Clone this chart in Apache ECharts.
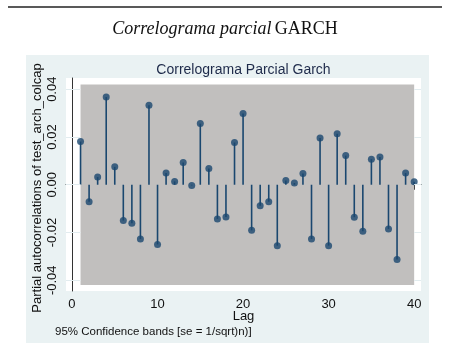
<!DOCTYPE html>
<html><head><meta charset="utf-8">
<script src="https://cdn.jsdelivr.net/npm/echarts@6/dist/echarts.min.js"></script>
<style>html,body{margin:0;padding:0;background:#fff}#c{width:450px;height:345px}</style>
</head><body><div id="c"></div>
<script>
const lags = [];
for (let i = 1; i <= 40; i++) lags.push(i);
const pacf = [0.0181, -0.0071, 0.0032, 0.0367, 0.0075, -0.0150, -0.0161, -0.0227, 0.0333, -0.0250,
  0.0049, 0.0014, 0.0093, -0.0003, 0.0256, 0.0068, -0.0143, -0.0135, 0.0177, 0.0298,
  -0.0191, -0.0088, -0.0071, -0.0255, 0.0018, 0.0007, 0.0047, -0.0227, 0.0196, -0.0255,
  0.0214, 0.0122, -0.0136, -0.0195, 0.0107, 0.0116, -0.0185, -0.0313, 0.0049, 0.0013];
const band = 0.042;
const xMin = -0.7, xMax = 40.8;
const xTicks = [0, 10, 20, 30, 40];
const yTicks = [-0.04, -0.02, 0, 0.02, 0.04];
const yLabels = ['-0.04', '-0.02', '0.00', '0.02', '0.04'];

const pts = lags.map((l, i) => [l, pacf[i]]);
const navy = '#1a476f';
const gridSegs = [];
yTicks.forEach(v => {
  gridSegs.push([{coord: [xMin, v]}, {coord: [1, v]}]);
  gridSegs.push([{coord: [40, v]}, {coord: [xMax, v]}]);
});
const chart = echarts.init(document.getElementById('c'), null, {renderer: 'canvas'});
chart.setOption({
  animation: false,
  graphic: [
    {type: 'line', shape: {x1: 8, y1: 7, x2: 442, y2: 7}, style: {stroke: '#222', lineWidth: 1.5}, z: -10},
    {type: 'rect', shape: {x: 26, y: 55, width: 403, height: 288}, style: {fill: '#eaf2f3'}, z: -100},
    {type: 'text', left: 'center', top: 20, style: {
      rich: {i: {fontFamily: 'Liberation Serif', fontStyle: 'italic', fontSize: 18, fill: '#111'},
             n: {fontFamily: 'Liberation Serif', fontSize: 18, fill: '#111'}},
      text: '{i|Correlograma parcial} {n|GARCH}'}},
    {type: 'text', x: 243.5, y: 70, style: {text: 'Correlograma Parcial Garch', font: '14px "Liberation Sans"', fill: '#1e2a4a', align: 'center', verticalAlign: 'middle'}},
    {type: 'text', x: 37, y: 188, rotation: Math.PI / 2, style: {text: 'Partial autocorrelations of test_arch_colcap', font: '13px "Liberation Sans"', fill: '#111', align: 'center', verticalAlign: 'middle'}},
    {type: 'text', x: 243.5, y: 316, style: {text: 'Lag', font: '13px "Liberation Sans"', fill: '#111', align: 'center', verticalAlign: 'middle'}},
    {type: 'text', x: 55, y: 332, style: {text: '95% Confidence bands [se = 1/sqrt)n)]', font: '11.5px "Liberation Sans"', fill: '#111', align: 'left', verticalAlign: 'middle'}}
  ],
  grid: {left: 66, right: 29, top: 78, bottom: 54, show: true, backgroundColor: '#fff', borderWidth: 0},
  xAxis: {type: 'value', min: xMin, max: xMax,
    axisLine: {show: true, lineStyle: {color: '#333', width: 1}},
    axisTick: {show: true, length: 5, customValues: xTicks, lineStyle: {color: '#333'}},
    axisLabel: {customValues: xTicks, color: '#111', fontSize: 13, fontFamily: 'Liberation Sans', margin: 7},
    splitLine: {show: false}},
  yAxis: {type: 'value', min: -0.0445, max: 0.0447,
    axisLine: {show: true, lineStyle: {color: '#333', width: 1}},
    axisTick: {show: true, length: 5, customValues: yTicks, lineStyle: {color: '#333'}},
    axisLabel: {customValues: yTicks, rotate: 90, color: '#111', fontSize: 13, fontFamily: 'Liberation Sans', margin: 7,
      formatter: v => yLabels[yTicks.findIndex(t => Math.abs(t - v) < 1e-9)]},
    splitLine: {show: false}},
  series: [
    {type: 'line', data: [], silent: true, z: 1,
      markLine: {silent: true, symbol: 'none', label: {show: false}, lineStyle: {color: '#e2ecef', width: 1, type: 'solid'},
        data: gridSegs},
      markArea: {silent: true, itemStyle: {color: '#c1bfbe'}, data: [[{coord: [1, -band]}, {coord: [40, band]}]]}},
    {type: 'bar', data: pts, barWidth: 1.6, itemStyle: {color: navy}, z: 3},
    {type: 'scatter', data: pts, symbol: 'circle', symbolSize: 7, itemStyle: {color: navy}, z: 4}
  ]
});
</script></body></html>
